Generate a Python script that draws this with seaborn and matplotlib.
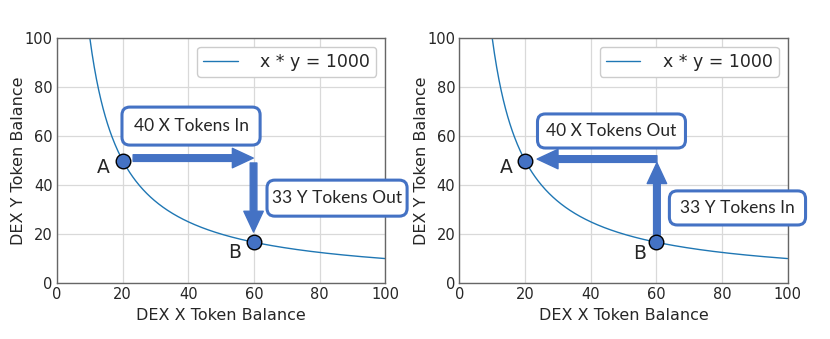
import numpy as np
import matplotlib
matplotlib.use('Agg')
import matplotlib.pyplot as plt
import seaborn as sns
from matplotlib.patches import FancyBboxPatch, FancyArrowPatch

sns.set_style('whitegrid')
plt.rcParams['font.family'] = ['DejaVu Sans']

# curve x * y = k
k = 1000
curve_x = np.linspace(10, 100, 400)
curve_y = k / curve_x

# points A and B
pt_labels = ['A', 'B']
pt_x = [20, 60]
pt_y = [50, 1000 / 60]

# box texts per panel
left_texts = ['40 X Tokens In', '33 Y Tokens Out']
right_texts = ['40 X Tokens Out', '33 Y Tokens In']

blue = '#4472C4'


def draw_box(ax, x0, x1, y0, y1, text):
    box = FancyBboxPatch((x0, y0), x1 - x0, y1 - y0,
                         boxstyle='round,pad=0,rounding_size=2.4',
                         mutation_aspect=1.34, fc='white', ec=blue,
                         lw=2.2, clip_on=False, zorder=5)
    ax.add_patch(box)
    ax.text((x0 + x1) / 2, (y0 + y1) / 2, text, ha='center', va='center',
            fontsize=12.5, family='Lato', zorder=6, clip_on=False)


def draw_arrow(ax, start, end):
    arr = FancyArrowPatch(start, end,
                          arrowstyle='simple,head_length=0.75,head_width=0.7,tail_width=0.24',
                          mutation_scale=20, color=blue, shrinkA=0, shrinkB=0,
                          zorder=4, clip_on=False)
    ax.add_patch(arr)


fig = plt.figure(figsize=(8.3, 3.39), dpi=100)
ax1 = fig.add_axes([0.0687, 0.165, 0.3953, 0.723])
ax2 = fig.add_axes([0.5535, 0.165, 0.3953, 0.723])

for ax in [ax1, ax2]:
    sns.lineplot(x=curve_x, y=curve_y, ax=ax, color='#1f77b4', lw=1,
                 label='x * y = 1000', zorder=2)
    sns.scatterplot(x=pt_x, y=pt_y, ax=ax, color=blue, edgecolor='black',
                    linewidth=1, s=110, zorder=7, legend=False, clip_on=False)
    ax.set_xlim(0, 100)
    ax.set_ylim(0, 100)
    ax.set_xticks([0, 20, 40, 60, 80, 100])
    ax.set_yticks([0, 20, 40, 60, 80, 100])
    ax.tick_params(labelsize=10.5, length=0, pad=3)
    ax.set_xlabel('DEX X Token Balance', fontsize=11.5, labelpad=4)
    ax.set_ylabel('DEX Y Token Balance', fontsize=11.5, labelpad=-1)
    for s in ax.spines.values():
        s.set_color('#666666')
        s.set_linewidth(1)
    ax.grid(color='#d9d9d9', lw=0.9)
    ax.legend(loc='upper right', fontsize=12.5, handlelength=2.0,
              handletextpad=1.3, borderpad=0.35, framealpha=1)

# left panel: X in, Y out
ax1.text(14, 47, pt_labels[0], fontsize=13.5, ha='center', va='center')
ax1.text(54, 12.5, pt_labels[1], fontsize=13.5, ha='center', va='center')
draw_arrow(ax1, (23.2, 51), (59.8, 51))
draw_arrow(ax1, (59.9, 49), (59.9, 20.8))
draw_box(ax1, 19.8, 61.9, 56.3, 71.8, left_texts[0])
draw_box(ax1, 64.0, 106.7, 27.3, 42.0, left_texts[1])

# right panel: Y in, X out
ax2.text(14.3, 47, pt_labels[0], fontsize=13.5, ha='center', va='center')
ax2.text(55, 12, pt_labels[1], fontsize=13.5, ha='center', va='center')
draw_arrow(ax2, (60.2, 19.5), (60.2, 49.1))
draw_arrow(ax2, (60.2, 50.6), (23.7, 50.6))
draw_box(ax2, 23.8, 68.9, 55.1, 69.0, right_texts[0])
draw_box(ax2, 64.0, 105.5, 23.7, 37.6, right_texts[1])

fig.savefig('out.png', dpi=100)
